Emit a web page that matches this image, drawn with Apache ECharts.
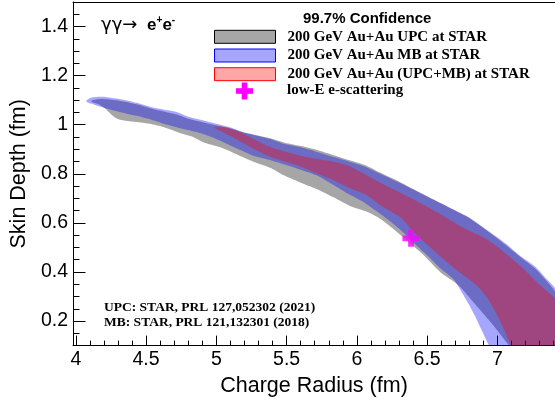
<!DOCTYPE html>
<html><head><meta charset="utf-8">
<script src="https://cdn.jsdelivr.net/npm/echarts@6/dist/echarts.min.js"></script>
<style>html,body{margin:0;padding:0;background:#fff}#c{width:555px;height:402px}</style>
</head><body><div id="c"></div>
<script>
// 99.7% confidence contours (charge radius fm, skin depth fm)
const upcContour = [[4.108,1.096],[4.158,1.104],[4.250,1.102],[4.349,1.094],[4.441,1.082],[4.533,1.066],[4.632,1.053],[4.723,1.041],[4.808,1.023],[4.922,1.007],[5.021,0.995],[5.113,0.983],[5.205,0.967],[5.304,0.955],[5.395,0.943],[5.487,0.927],[5.607,0.913],[5.728,0.895],[5.841,0.875],[5.961,0.853],[6.068,0.833],[6.173,0.803],[6.315,0.764],[6.456,0.722],[6.598,0.680],[6.739,0.638],[6.810,0.616],[6.951,0.558],[7.057,0.511],[7.164,0.461],[7.270,0.413],[7.347,0.365],[7.411,0.320],[7.552,0.184],[7.729,-0.02],[7.24,-0.02],[7.078,0.104],[6.951,0.196],[6.831,0.276],[6.739,0.337],[6.669,0.369],[6.598,0.397],[6.456,0.479],[6.315,0.549],[6.173,0.614],[6.068,0.646],[5.947,0.670],[5.834,0.704],[5.713,0.738],[5.593,0.766],[5.480,0.794],[5.395,0.822],[5.275,0.847],[5.162,0.875],[5.042,0.905],[4.922,0.925],[4.830,0.951],[4.759,0.963],[4.674,0.981],[4.582,0.997],[4.490,1.007],[4.370,1.015],[4.299,1.023],[4.250,1.043],[4.207,1.067],[4.158,1.084]];
const mbContour = [[4.073,1.096],[4.108,1.110],[4.179,1.114],[4.250,1.110],[4.349,1.101],[4.441,1.088],[4.533,1.072],[4.632,1.061],[4.723,1.051],[4.808,1.031],[4.922,1.015],[5.021,1.001],[5.113,0.987],[5.205,0.967],[5.304,0.953],[5.395,0.940],[5.487,0.921],[5.607,0.907],[5.728,0.887],[5.841,0.867],[5.961,0.847],[6.068,0.827],[6.173,0.798],[6.315,0.760],[6.456,0.720],[6.598,0.680],[6.739,0.640],[6.810,0.618],[6.951,0.561],[7.057,0.517],[7.164,0.465],[7.270,0.421],[7.347,0.373],[7.411,0.333],[7.552,0.184],[7.588,-0.02],[7.036,-0.02],[6.937,0.104],[6.881,0.172],[6.838,0.224],[6.789,0.276],[6.739,0.325],[6.690,0.369],[6.598,0.413],[6.506,0.465],[6.407,0.517],[6.315,0.569],[6.173,0.634],[6.032,0.690],[5.926,0.722],[5.834,0.754],[5.713,0.794],[5.593,0.818],[5.480,0.839],[5.360,0.859],[5.275,0.871],[5.162,0.899],[5.042,0.931],[4.922,0.959],[4.808,0.977],[4.723,0.989],[4.632,1.003],[4.533,1.021],[4.441,1.035],[4.349,1.047],[4.250,1.061],[4.158,1.076],[4.108,1.086]];
const combContour = [[4.986,0.991],[5.042,0.993],[5.091,0.987],[5.183,0.967],[5.275,0.939],[5.374,0.911],[5.487,0.891],[5.593,0.875],[5.713,0.861],[5.834,0.849],[5.947,0.831],[6.032,0.806],[6.173,0.762],[6.315,0.722],[6.456,0.680],[6.598,0.634],[6.739,0.586],[6.810,0.565],[6.902,0.541],[7.022,0.493],[7.164,0.425],[7.284,0.357],[7.411,0.292],[7.552,0.204],[7.729,-0.02],[7.18,-0.02],[7.093,0.104],[7.036,0.180],[6.972,0.252],[6.916,0.304],[6.845,0.349],[6.725,0.401],[6.598,0.461],[6.506,0.509],[6.407,0.561],[6.315,0.620],[6.173,0.670],[6.068,0.714],[5.947,0.742],[5.834,0.774],[5.713,0.802],[5.593,0.831],[5.480,0.851],[5.374,0.871],[5.275,0.899],[5.162,0.935],[5.042,0.971],[4.993,0.985]];
const eScattering = [[6.385, 0.537]];
const seriesNames = ['200 GeV Au+Au UPC at STAR', '200 GeV Au+Au MB at STAR', '200 GeV Au+Au (UPC+MB) at STAR', 'low-E e-scattering'];
const xRange = [3.98, 7.41];
const yRange = [0.1, 1.5];

const crossPath = 'path://M-1,-3H1V-1H3V1H1V3H-1V1H-3V-1H-1Z';
const fills = ['rgba(0,0,0,0.35)', 'rgba(0,0,255,0.35)', 'rgba(255,0,0,0.35)'];

function polySeries(name, pts, fill) {
  return {
    type: 'custom', name: name, clip: true, silent: true,
    itemStyle: { color: fill },
    data: pts,
    renderItem: function (params, api) {
      if (params.dataIndex !== 0) return null;
      return { type: 'polygon', shape: { points: pts.map(function (p) { return api.coord(p); }), smooth: 0.25 },
        style: { fill: fill, stroke: null } };
    }
  };
}

const sans = 'Liberation Sans';
const serif = 'Liberation Serif';
const chart = echarts.init(document.getElementById('c'), null, { renderer: 'canvas' });
chart.setOption({
  animation: false,
  backgroundColor: '#fff',
  grid: { left: 70, right: 0, top: 2, bottom: 51 },
  xAxis: [
    { type: 'value', min: xRange[0], max: xRange[1], splitNumber: 7, position: 'bottom',
      name: 'Charge Radius (fm)', nameLocation: 'middle', nameGap: 26.5,
      nameTextStyle: { fontFamily: sans, fontSize: 21.5, color: '#000' },
      axisLine: { show: true, lineStyle: { color: '#000', width: 1 } },
      axisTick: { show: true, inside: true, length: 10, lineStyle: { color: '#000' } },
      axisLabel: { show: true, margin: 4.5, fontFamily: sans, fontSize: 19.5, color: '#000', showMinLabel: false, showMaxLabel: false },
      splitLine: { show: false } },
    { type: 'value', min: xRange[0], max: xRange[1], splitNumber: 34, position: 'bottom',
      axisLine: { show: false }, axisLabel: { show: false }, splitLine: { show: false },
      axisTick: { show: true, inside: true, length: 5, lineStyle: { color: '#000' } } },
    { type: 'value', min: xRange[0], max: xRange[1], position: 'top',
      axisLine: { show: true, lineStyle: { color: '#000', width: 1 } },
      axisTick: { show: false }, axisLabel: { show: false }, splitLine: { show: false } }
  ],
  yAxis: [
    { type: 'value', min: yRange[0], max: yRange[1], splitNumber: 7, position: 'left',
      name: 'Skin Depth (fm)', nameLocation: 'middle', nameGap: 37,
      nameTextStyle: { fontFamily: sans, fontSize: 21.5, color: '#000' },
      axisLine: { show: true, lineStyle: { color: '#000', width: 1 } },
      axisTick: { show: true, inside: true, length: 12.5, lineStyle: { color: '#000' } },
      axisLabel: { show: true, margin: 5, fontFamily: sans, fontSize: 19.5, color: '#000', showMinLabel: false, showMaxLabel: false },
      splitLine: { show: false } },
    { type: 'value', min: yRange[0], max: yRange[1], interval: 0.05, position: 'left',
      axisLine: { show: false }, axisLabel: { show: false }, splitLine: { show: false },
      axisTick: { show: true, inside: true, length: 6.5, lineStyle: { color: '#000' } } }
  ],
  legend: [
    { orient: 'vertical', left: 214, top: 29.3, itemWidth: 61, itemHeight: 13, itemGap: 3.7, padding: 0,
      selectedMode: false, icon: 'rect',
      textStyle: { fontFamily: serif, fontWeight: 'bold', fontSize: 15, color: '#000', padding: [0, 0, 0, 7] },
      data: [
        { name: seriesNames[0], itemStyle: { color: fills[0], borderColor: '#000', borderWidth: 1 } },
        { name: seriesNames[1], itemStyle: { color: fills[1], borderColor: '#00f', borderWidth: 1 } },
        { name: seriesNames[2], itemStyle: { color: fills[2], borderColor: '#f00', borderWidth: 1 } }
      ] }
  ],
  graphic: [
    { type: 'text', left: 303, top: 11, style: { text: '99.7% Confidence', fontFamily: sans, fontWeight: 'bold', fontSize: 15, fill: '#000' } },
    { type: 'rect', shape: { x: 236, y: 88.2, width: 17, height: 5.6 }, style: { fill: '#ff00ff' } },
    { type: 'rect', shape: { x: 241.7, y: 82.5, width: 5.6, height: 17 }, style: { fill: '#ff00ff' } },
    { type: 'text', x: 287, y: 90, style: { text: seriesNames[3], fontFamily: serif, fontWeight: 'bold', fontSize: 15, fill: '#000', verticalAlign: 'middle', align: 'left' } },
    { type: 'text', left: 101, top: 15, style: {
        text: '{a|γγ→ }{b|e}{s|+}{b|e}{s|-}',
        rich: {
          a: { fontFamily: 'DejaVu Sans', fontSize: 18, fill: '#000', lineHeight: 20, padding: [0, 4, 0, 0] },
          b: { fontFamily: sans, fontWeight: 'bold', fontSize: 17, fill: '#000', lineHeight: 20 },
          s: { fontFamily: sans, fontWeight: 'bold', fontSize: 10, fill: '#000', lineHeight: 20, verticalAlign: 'top' }
        } } },
    { type: 'text', left: 104, top: 301, style: { text: 'UPC: STAR, PRL 127,052302 (2021)', fontFamily: serif, fontWeight: 'bold', fontSize: 13.5, fill: '#000' } },
    { type: 'text', left: 104, top: 315.5, style: { text: 'MB: STAR, PRL 121,132301 (2018)', fontFamily: serif, fontWeight: 'bold', fontSize: 13.5, fill: '#000' } }
  ],
  series: [
    polySeries(seriesNames[0], upcContour, fills[0]),
    polySeries(seriesNames[1], mbContour, fills[1]),
    polySeries(seriesNames[2], combContour, fills[2]),
    { type: 'scatter', name: seriesNames[3], data: eScattering, symbol: crossPath, symbolSize: 17,
      symbolKeepAspect: true, silent: true, itemStyle: { color: '#ff00ff' }, z: 5 }
  ]
});
</script></body></html>
